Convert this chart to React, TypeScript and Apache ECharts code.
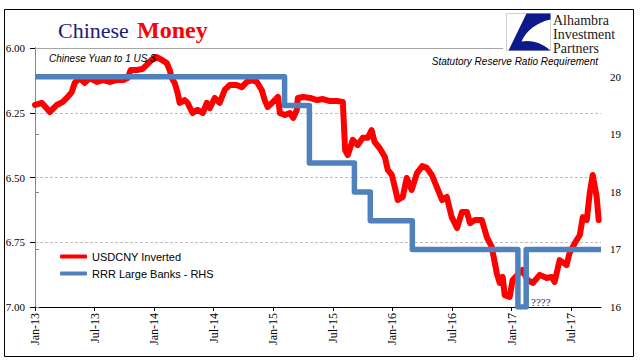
import React, { useEffect, useRef } from 'react';
import * as echarts from 'echarts';

// USDCNY (left axis, inverted)
const redDates = [
  '2013-01-01','2013-01-22','2013-02-16','2013-03-07','2013-03-25','2013-04-10','2013-04-22','2013-05-01','2013-05-16','2013-06-01',
  '2013-06-16','2013-07-08','2013-07-26','2013-08-17','2013-09-08','2013-09-26','2013-10-11','2013-10-20','2013-11-08','2013-11-26',
  '2013-12-08','2013-12-23','2014-01-09','2014-01-24','2014-02-09','2014-02-18','2014-02-24','2014-03-03','2014-03-12','2014-03-18',
  '2014-04-03','2014-04-12','2014-04-27','2014-05-12','2014-05-28','2014-06-10','2014-06-19','2014-07-04','2014-07-19','2014-08-04',
  '2014-08-19','2014-09-10','2014-09-26','2014-10-11','2014-10-26','2014-11-11','2014-11-26','2014-12-05','2014-12-14','2014-12-30',
  '2015-01-15','2015-01-21','2015-02-06','2015-02-21','2015-03-01','2015-03-12','2015-03-15','2015-03-31','2015-04-22','2015-05-13',
  '2015-06-01','2015-06-22','2015-07-13','2015-08-01','2015-08-08','2015-08-16','2015-09-01','2015-09-16','2015-10-01','2015-10-16',
  '2015-10-28','2015-11-07','2015-11-22','2015-12-08','2015-12-17','2015-12-29','2016-01-08','2016-01-17','2016-02-02','2016-02-14',
  '2016-02-29','2016-03-15','2016-03-31','2016-04-15','2016-04-30','2016-05-15','2016-05-31','2016-06-15','2016-06-30','2016-07-16',
  '2016-08-01','2016-08-16','2016-08-25','2016-09-10','2016-10-01','2016-10-16','2016-11-01','2016-11-16','2016-11-25','2016-12-04',
  '2016-12-10','2016-12-25','2017-01-04','2017-01-19','2017-02-04','2017-02-19','2017-03-05','2017-03-26','2017-04-17','2017-05-02',
  '2017-05-11','2017-05-26','2017-06-17','2017-06-26','2017-07-12','2017-07-27','2017-08-06','2017-08-18','2017-08-27','2017-09-06',
  '2017-09-18','2017-09-24',
];
const redValues = [
  6.220,6.212,6.247,6.220,6.208,6.189,6.170,6.135,6.116,6.135,
  6.116,6.131,6.124,6.131,6.124,6.124,6.116,6.085,6.085,6.081,
  6.066,6.046,6.035,6.046,6.058,6.085,6.116,6.135,6.174,6.212,
  6.201,6.212,6.251,6.239,6.251,6.212,6.232,6.193,6.212,6.162,
  6.143,6.143,6.151,6.131,6.124,6.131,6.162,6.201,6.228,6.208,
  6.189,6.251,6.259,6.251,6.270,6.239,6.193,6.189,6.193,6.201,
  6.197,6.205,6.205,6.208,6.394,6.413,6.355,6.375,6.347,6.347,
  6.317,6.363,6.386,6.421,6.471,6.490,6.537,6.587,6.575,6.502,
  6.548,6.483,6.456,6.463,6.490,6.537,6.587,6.575,6.653,6.695,
  6.633,6.633,6.676,6.664,6.664,6.730,6.768,6.869,6.907,6.884,
  6.954,6.961,6.896,6.876,6.857,6.896,6.907,6.876,6.888,6.884,
  6.903,6.819,6.838,6.792,6.753,6.722,6.653,6.664,6.560,6.490,
  6.575,6.664,
];

// RRR for large banks (right axis): change dates and new levels
const rrrDates = ['2013-01-01','2015-02-05','2015-04-20','2015-09-06','2015-10-24','2016-03-01','2017-01-20','2017-02-15'];
const rrrValues = [20, 19.5, 18.5, 18.0, 17.5, 17.0, 16.0, 17.0];
const rrrEnd = '2017-10-01';

// Axis ticks (months since Jan 2013)
const xTickMonths = [0, 6, 12, 18, 24, 30, 36, 42, 48, 54];
const leftTicks = [6.0, 6.25, 6.5, 6.75, 7.0];
const rightTicks = [16, 17, 18, 19, 20];

const monthIndex = (d: string) => {
  const [y, m, dd] = d.split('-').map(Number);
  return (y - 2013) * 12 + (m - 1) + (dd - 1) / 30;
};

const redData = redDates.map((d, i) => [monthIndex(d), redValues[i]]);
const rrrData: number[][] = [];
rrrDates.forEach((d, i) => {
  const m = monthIndex(d);
  if (i > 0) rrrData.push([m, rrrValues[i - 1]]);
  rrrData.push([m, rrrValues[i]]);
});
rrrData.push([monthIndex(rrrEnd), rrrValues[rrrValues.length - 1]]);

const logoD = 'M20 0 L44 0 L44 6 C30 9 20 17 15 28 C26 26 36 30 44 37 L2 37 Z';
echarts.graphic.registerShape('logo', echarts.graphic.extendPath(logoD, {}) as any);

const serif = 'Liberation Serif';
const sans = 'Liberation Sans';

const option: any = {
  animation: false,
  backgroundColor: '#ffffff',
  grid: { left: 35, top: 48, right: 40, bottom: 54, containLabel: false },
  legend: {
    orient: 'vertical',
    left: 55,
    top: 246,
    itemWidth: 27,
    itemHeight: 4,
    itemGap: 6,
    icon: 'roundRect',
    textStyle: { fontFamily: sans, fontSize: 11, color: '#000' },
    data: ['USDCNY Inverted', 'RRR Large Banks - RHS'],
  },
  xAxis: [
    {
      type: 'value',
      min: 0,
      max: 57,
      interval: 6,
      axisLine: { show: true, lineStyle: { color: '#000', width: 1 } },
      axisTick: { show: true, length: 4, lineStyle: { color: '#000' }, customValues: xTickMonths },
      axisLabel: {
        rotate: 90,
        margin: 6,
        fontFamily: serif,
        fontSize: 12,
        color: '#000',
        customValues: xTickMonths,
        formatter: (v: number) => (Math.round(v) % 12 === 0 ? 'Jan-' : 'Jul-') + String(13 + Math.floor(v / 12)),
      },
      splitLine: { show: false },
    },
    {
      type: 'value',
      position: 'top',
      min: 0,
      max: 57,
      axisLine: { show: true, lineStyle: { color: '#A6A6A6', width: 1 } },
      axisTick: { show: false },
      axisLabel: { show: false },
      splitLine: { show: false },
    },
  ],
  yAxis: [
    {
      type: 'value',
      inverse: true,
      min: 6,
      max: 7,
      interval: 0.25,
      position: 'left',
      axisLine: { show: true, lineStyle: { color: '#000', width: 1 } },
      axisTick: { show: true, length: 5, lineStyle: { color: '#000' }, customValues: leftTicks },
      axisLabel: {
        fontFamily: serif,
        fontSize: 11,
        color: '#000',
        margin: 10,
        customValues: leftTicks,
        formatter: (v: number) => v.toFixed(2),
      },
      splitLine: {
        show: true,
        showMinLine: false,
        showMaxLine: false,
        lineStyle: { color: '#BFBFBF', type: [3, 2], width: 1 },
      },
    },
    {
      type: 'value',
      min: 16,
      max: 20.5,
      interval: 1,
      position: 'right',
      axisLine: { show: true, lineStyle: { color: '#868686', width: 1 } },
      axisTick: { show: true, length: 4, lineStyle: { color: '#868686' }, customValues: rightTicks },
      axisLabel: { fontFamily: serif, fontSize: 11, color: '#000', margin: 9, customValues: rightTicks },
      splitLine: { show: false },
    },
  ],
  series: [
    {
      name: 'USDCNY Inverted',
      type: 'line',
      xAxisIndex: 0,
      yAxisIndex: 0,
      data: redData,
      symbol: 'none',
      color: '#FF0000',
      lineStyle: { color: '#FF0000', width: 6, join: 'round', cap: 'round' },
      z: 2,
    },
    {
      name: 'RRR Large Banks - RHS',
      type: 'line',
      xAxisIndex: 0,
      yAxisIndex: 1,
      data: rrrData,
      symbol: 'none',
      color: '#4F81BD',
      lineStyle: { color: '#4F81BD', width: 5.5, join: 'round', cap: 'butt' },
      z: 3,
    },
  ],
  graphic: [
    {
      type: 'rect',
      z: 0,
      silent: true,
      shape: { x: 4.5, y: 9.5, width: 629, height: 347 },
      style: { fill: 'none', stroke: '#000', lineWidth: 1 },
    },
    {
      type: 'rect',
      z: 50,
      silent: true,
      shape: { x: 503, y: 10, width: 129, height: 46 },
      style: { fill: '#fff' },
    },
    {
      type: 'rect',
      z: 51,
      silent: true,
      shape: { x: 506.5, y: 13.5, width: 44, height: 37 },
      style: { fill: '#fff', stroke: '#D0D0D0', lineWidth: 1 },
    },
    {
      type: 'logo',
      z: 52,
      silent: true,
      x: 506.5,
      y: 13.5,
      style: { fill: '#0D1A8C' },
    },
    {
      type: 'text', z: 52, silent: true, x: 553, y: 20,
      style: { text: 'Alhambra', font: `14px "${serif}"`, fill: '#1a1a1a', verticalAlign: 'middle' },
    },
    {
      type: 'text', z: 52, silent: true, x: 553, y: 34,
      style: { text: 'Investment', font: `14px "${serif}"`, fill: '#1a1a1a', verticalAlign: 'middle' },
    },
    {
      type: 'text', z: 52, silent: true, x: 553, y: 48,
      style: { text: 'Partners', font: `14px "${serif}"`, fill: '#1a1a1a', verticalAlign: 'middle' },
    },
    {
      type: 'text', z: 52, silent: true, x: 58, y: 30,
      style: { text: 'Chinese', font: `22px "${serif}"`, fill: '#1B1B7D', verticalAlign: 'middle' },
    },
    {
      type: 'text', z: 52, silent: true, x: 137, y: 30,
      style: { text: 'Money', font: `bold 24px "${serif}"`, fill: '#FF0000', verticalAlign: 'middle' },
    },
    {
      type: 'text', z: 52, silent: true, x: 49, y: 58,
      style: { text: 'Chinese Yuan to 1 US $', font: `italic 10px "${sans}"`, fill: '#000', verticalAlign: 'middle' },
    },
    {
      type: 'text', z: 52, silent: true, x: 598, y: 61,
      style: { text: 'Statutory Reserve Ratio Requirement', font: `italic 10px "${sans}"`, fill: '#000', align: 'right', verticalAlign: 'middle' },
    },
    {
      type: 'text', z: 52, silent: true, x: 531, y: 302,
      style: { text: '????', font: `11px "${serif}"`, fill: '#1F2A50', verticalAlign: 'middle' },
    },
  ],
};

export default function App() {
  const ref = useRef<HTMLDivElement>(null);
  useEffect(() => {
    if (!ref.current) return;
    const chart = echarts.init(ref.current, null, { renderer: 'svg' });
    chart.setOption(option);
    return () => chart.dispose();
  }, []);
  return (
    <div
      ref={ref}
      style={{ position: 'fixed', left: 0, top: 0, width: 641, height: 361, background: '#fff' }}
    />
  );
}
